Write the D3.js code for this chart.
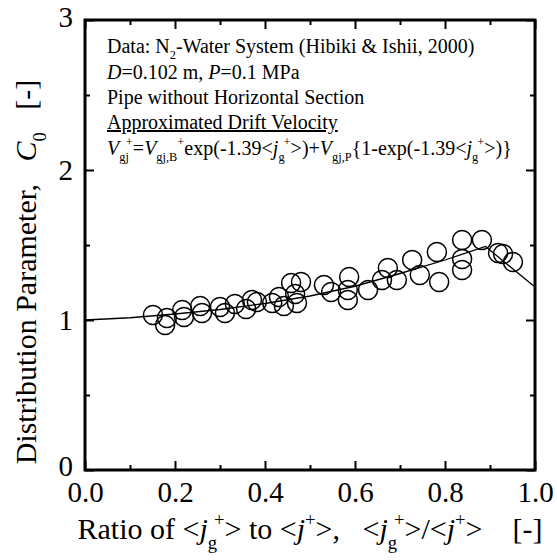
<!DOCTYPE html>
<html>
<head>
<meta charset="utf-8">
<script src="https://cdn.jsdelivr.net/npm/d3@7"></script>
<style>
  body { margin: 0; background: #ffffff; }
  svg, svg text { font-family: "Liberation Serif", "Times New Roman", Times, "DejaVu Serif", serif; }
  text { white-space: pre; }
</style>
</head>
<body>
<div id="graph"></div>
<script>
// The data... ratio <jg+>/<j+> and measured distribution parameter C0
var ratio = [ 0.151, 0.178, 0.182, 0.216, 0.220, 0.256, 0.260, 0.300, 0.311, 0.333,
              0.358, 0.371, 0.382, 0.416, 0.431, 0.442, 0.458, 0.480, 0.467, 0.471,
              0.531, 0.547, 0.587, 0.584, 0.584, 0.629, 0.660, 0.673, 0.693, 0.727,
              0.744, 0.782, 0.787, 0.838, 0.838, 0.838, 0.882, 0.918, 0.929, 0.951 ];
var c0    = [ 1.033, 0.967, 1.013, 1.067, 1.020, 1.093, 1.047, 1.087, 1.047, 1.107,
              1.073, 1.133, 1.120, 1.113, 1.153, 1.093, 1.247, 1.253, 1.173, 1.113,
              1.233, 1.187, 1.287, 1.200, 1.133, 1.200, 1.267, 1.347, 1.267, 1.400,
              1.300, 1.453, 1.253, 1.533, 1.407, 1.333, 1.533, 1.447, 1.440, 1.387 ];

// Predicted C0 (solid line)
var curveRatio = [ 0.0, 0.1, 0.2, 0.3, 0.4, 0.5, 0.6, 0.7, 0.8, 0.89, 1.0 ];
var curveC0    = [ 1.0, 1.015, 1.04, 1.07, 1.11, 1.16, 1.225, 1.31, 1.40, 1.49, 1.22 ];

var xTicks      = [ 0.0, 0.2, 0.4, 0.6, 0.8, 1.0 ];
var xMinorTicks = [ 0.1, 0.3, 0.5, 0.7, 0.9 ];
var xTickLabels = [ '0.0', '0.2', '0.4', '0.6', '0.8', '1.0' ];
var yTicks      = [ 0, 1, 2, 3 ];
var yMinorTicks = [ 0.5, 1.5, 2.5 ];
var yTickLabels = [ '0', '1', '2', '3' ];

var serif = '"Liberation Serif", "Times New Roman", Times, "DejaVu Serif", serif';

// SVG Width, height, and some added spacing
var margin = { top: 20, right: 22, bottom: 90, left: 85 };
var width  = 557 - margin.left - margin.right;
var height = 560 - margin.top - margin.bottom;

var svg = d3.select('#graph').append('svg')
            .attr('width', 557)
            .attr('height', 560)
            .attr('font-family', serif);

var g = svg.append('g')
           .attr('transform', 'translate(' + margin.left + ',' + margin.top + ')');

var xScale = d3.scaleLinear().domain([ 0, 1 ]).range([ 0, width ]);
var yScale = d3.scaleLinear().domain([ 0, 3 ]).range([ height, 0 ]);

//
// Text with italics, subscripts and superscripts
//
function richText (parent, x, y, size, parts)
{
    var t = parent.append('text')
                  .attr('x', x)
                  .attr('y', y)
                  .attr('font-family', serif)
                  .attr('font-size', size + 'px')
                  .attr('fill', '#000');
    var shift = 0;
    parts.forEach(function (p) {
        var kind = p[1] || '';
        var target = 0, fs = size;
        if (kind.indexOf('sub') >= 0) { target = size * 0.32; fs = size * 0.62; }
        if (kind.indexOf('sup') >= 0) { target = -size * 0.45; fs = size * 0.62; }
        var s = t.append('tspan')
                 .attr('dy', target - shift)
                 .attr('font-size', fs + 'px')
                 .text(p[0]);
        if (p[2]) s.attr('dx', p[2]);
        if (kind == 'i') s.attr('font-style', 'italic');
        if (kind == 'u') s.attr('text-decoration', 'underline');
        shift = target;
    });
    return t;
}

// axes, ticks inward on all sides
function styleAxis (sel)
{
    sel.attr('font-family', serif);
    sel.select('.domain').remove();
    sel.selectAll('line').attr('stroke', '#000').attr('stroke-width', 2);
    sel.selectAll('text').attr('fill', '#000')
       .attr('font-family', serif)
       .attr('font-size', '29px');
}

g.append('g').attr('transform', 'translate(0,' + height + ')')
 .call(d3.axisBottom(xScale).tickValues(xTicks).tickSize(-9).tickPadding(11)
         .tickFormat(function (d, i) { return xTickLabels[i]; }))
 .call(styleAxis);
g.append('g').attr('transform', 'translate(0,' + height + ')')
 .call(d3.axisBottom(xScale).tickValues(xMinorTicks).tickSize(-5).tickFormat(''))
 .call(styleAxis);
g.append('g')
 .call(d3.axisTop(xScale).tickValues(xTicks).tickSize(-9).tickFormat(''))
 .call(styleAxis);
g.append('g')
 .call(d3.axisTop(xScale).tickValues(xMinorTicks).tickSize(-5).tickFormat(''))
 .call(styleAxis);

g.append('g')
 .call(d3.axisLeft(yScale).tickValues(yTicks).tickSize(-9).tickPadding(12)
         .tickFormat(function (d, i) { return yTickLabels[i]; }))
 .call(styleAxis)
 .selectAll('text').attr('y', function (d, i) { return i == 0 ? -4 : (i == 3 ? -3 : 0); });
g.append('g')
 .call(d3.axisLeft(yScale).tickValues(yMinorTicks).tickSize(-5).tickFormat(''))
 .call(styleAxis);
g.append('g').attr('transform', 'translate(' + width + ',0)')
 .call(d3.axisRight(yScale).tickValues(yTicks).tickSize(-9).tickFormat(''))
 .call(styleAxis);
g.append('g').attr('transform', 'translate(' + width + ',0)')
 .call(d3.axisRight(yScale).tickValues(yMinorTicks).tickSize(-5).tickFormat(''))
 .call(styleAxis);

// frame
g.append('rect')
 .attr('x', 0).attr('y', 0)
 .attr('width', width).attr('height', height)
 .attr('fill', 'none')
 .attr('stroke', '#000')
 .attr('stroke-width', 3);

// predicted line
var line = d3.line()
             .x(function (d) { return xScale(d[0]); })
             .y(function (d) { return yScale(d[1]); });

g.append('path')
 .datum(d3.zip(curveRatio, curveC0))
 .attr('d', line)
 .attr('fill', 'none')
 .attr('stroke', '#000')
 .attr('stroke-width', 1.3);

// data points
g.selectAll('circle')
 .data(d3.zip(ratio, c0))
 .enter()
 .append('circle')
 .attr('cx', function (d) { return xScale(d[0]); })
 .attr('cy', function (d) { return yScale(d[1]); })
 .attr('r', 9.5)
 .attr('fill', 'none')
 .attr('stroke', '#000')
 .attr('stroke-width', 1.5);

// annotation
var fs = 20;
richText(svg, 107, 53, fs, [ [ 'Data: N' ], [ '2', 'sub' ], [ '-Water System (Hibiki & Ishii, 2000)' ] ]);
richText(svg, 107, 79, fs, [ [ 'D', 'i' ], [ '=0.102 m, ' ], [ 'P', 'i' ], [ '=0.1 MPa' ] ]);
richText(svg, 107, 104, fs, [ [ 'Pipe without Horizontal Section' ] ]);
richText(svg, 107, 129, fs, [ [ 'Approximated Drift Velocity', 'u' ] ]);
richText(svg, 107, 155, fs, [
    [ 'V', 'i' ], [ 'gj', 'sub' ], [ '+', 'sup', -3 ], [ '=' ],
    [ 'V', 'i' ], [ 'gj,B', 'sub' ], [ '+', 'sup' ], [ 'exp(-1.39<' ],
    [ 'j', 'i' ], [ 'g', 'sub' ], [ '+', 'sup', -1 ], [ '>)+' ],
    [ 'V', 'i' ], [ 'gj,P', 'sub' ], [ '{1-exp(-1.39<' ],
    [ 'j', 'i' ], [ 'g', 'sub' ], [ '+', 'sup', -1 ], [ '>)}' ] ]);

// axis titles
richText(svg, 310, 539, 30, [
    [ 'Ratio of <' ], [ 'j', 'i' ], [ 'g', 'sub' ], [ '+', 'sup', -3 ], [ '> to <' ],
    [ 'j', 'i' ], [ '+', 'sup' ], [ '>,   <' ],
    [ 'j', 'i' ], [ 'g', 'sub' ], [ '+', 'sup', -3 ], [ '>/<' ],
    [ 'j', 'i' ], [ '+', 'sup' ], [ '>    [-]' ] ])
  .attr('text-anchor', 'middle');

richText(svg, 0, 0, 30, [ [ 'Distribution Parameter,   ' ], [ 'C', 'i' ], [ '0', 'sub' ], [ '   [-]' ] ])
  .attr('text-anchor', 'middle')
  .attr('transform', 'translate(36,272) rotate(-90)');
</script>
</body>
</html>
